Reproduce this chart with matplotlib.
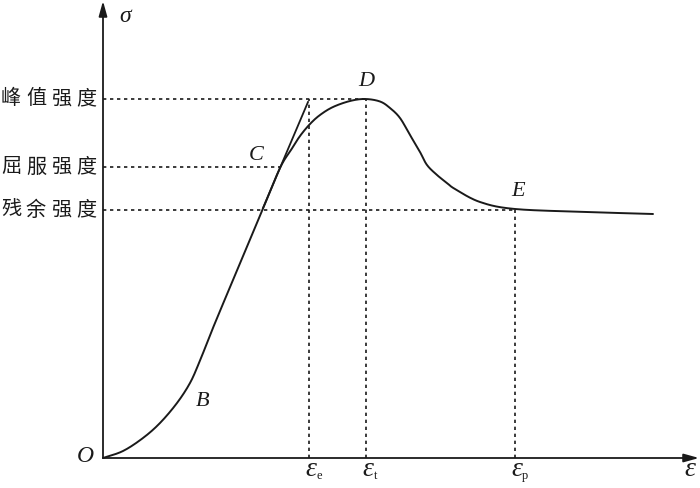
import numpy as np
import matplotlib
matplotlib.use("Agg")
import matplotlib.pyplot as plt

# curve points (strain, stress) in schematic units, origin at O
curve_x = [0, 20, 40, 57, 74, 87, 96, 104, 112, 135, 159, 177, 188, 197, 207, 217, 230, 247, 262, 277, 287, 297, 307, 317, 324, 334, 344, 352, 377, 412, 484, 550]
curve_y = [0, 7, 20, 35, 55, 75, 95, 115, 135, 190, 247, 290, 308, 322, 334, 343, 351, 357, 359, 356.5, 350, 340, 323, 306, 293, 283, 275, 269, 256, 249, 246, 244]

peak_stress = 359
yield_stress = 291
resid_stress = 248
eps_e = 206
eps_t = 263
eps_p = 412
eps_yield = 178
tangent_x = [160, 205]
tangent_y = [250, 356]

level_labels = ["峰值强度", "屈服强度", "残余强度"]
level_values = [peak_stress, yield_stress, resid_stress]


def smooth(x, y, n=20):
    x = np.asarray(x, float); y = np.asarray(y, float)
    P = np.column_stack([x, y])
    P = np.vstack([2 * P[0] - P[1], P, 2 * P[-1] - P[-2]])
    out = []
    for i in range(1, len(P) - 2):
        p0, p1, p2, p3 = P[i - 1], P[i], P[i + 1], P[i + 2]
        t = np.linspace(0, 1, n, endpoint=False)[:, None]
        pts = 0.5 * ((2 * p1) + (-p0 + p2) * t + (2 * p0 - 5 * p1 + 4 * p2 - p3) * t ** 2
                     + (-p0 + 3 * p1 - 3 * p2 + p3) * t ** 3)
        out.append(pts)
    out.append(P[-2][None, :])
    out = np.vstack(out)
    return out[:, 0], out[:, 1]


fig = plt.figure(figsize=(7, 4.88), dpi=100)
ax = fig.add_axes([0, 0, 1, 1])
ax.set_xlim(-103, 597)
ax.set_ylim(-30, 458)
ax.axis("off")

k = "#1a1a1a"
# axes arrows
ax.annotate("", xy=(0, 457), xytext=(0, 0),
            arrowprops=dict(arrowstyle="-|>,head_length=0.9,head_width=0.25", lw=1.3, color=k, shrinkA=0, shrinkB=0))
ax.annotate("", xy=(596, 0), xytext=(0, 0),
            arrowprops=dict(arrowstyle="-|>,head_length=0.9,head_width=0.25", lw=1.3, color=k, shrinkA=0, shrinkB=0))

sx, sy = smooth(curve_x, curve_y)
ax.plot(sx, sy, color=k, lw=1.4, solid_capstyle="round")
ax.plot(tangent_x, tangent_y, color=k, lw=1.3)

dkw = dict(color=k, lw=1.2, dashes=(2, 2.2))
ax.plot([0, eps_t], [peak_stress, peak_stress], **dkw)
ax.plot([0, eps_yield], [yield_stress, yield_stress], **dkw)
ax.plot([0, eps_p], [resid_stress, resid_stress], **dkw)
ax.plot([eps_e, eps_e], [0, peak_stress], **dkw)
ax.plot([eps_t, eps_t], [0, peak_stress], **dkw)
ax.plot([eps_p, eps_p], [0, resid_stress], **dkw)

cjk = ["Noto Sans CJK SC", "DejaVu Sans"]
for lab, v in zip(level_labels, level_values):
    for i, ch in enumerate(lab):
        ax.text(-92 + 25 * i, v, ch, fontsize=14.5, family=cjk, ha="center", va="center", color=k)

ser = dict(family="Liberation Serif", style="italic", color=k)
ax.text(22, 442, "σ", fontsize=17, ha="center", va="center", **ser)
ax.text(-18, 2, "O", fontsize=17, ha="center", va="center", **ser)
ax.text(100, 56, "B", fontsize=16, ha="center", va="center", **ser)
ax.text(153, 302, "C", fontsize=16, ha="center", va="center", **ser)
ax.text(263, 377, "D", fontsize=16, ha="center", va="center", **ser)
ax.text(415, 266, "E", fontsize=16, ha="center", va="center", **ser)

eps_pos = [eps_e, eps_t, eps_p]
eps_sub = ["e", "t", "p"]
for xp, sub in zip(eps_pos, eps_sub):
    ax.text(xp + 2, -12, "ε", fontsize=20, ha="center", va="center", **ser)
    ax.text(xp + 10, -18, sub, fontsize=9, family="Liberation Serif", ha="center", va="center", color=k)
ax.text(587, -12, "ε", fontsize=20, ha="center", va="center", **ser)

fig.savefig("out.png", dpi=100)
